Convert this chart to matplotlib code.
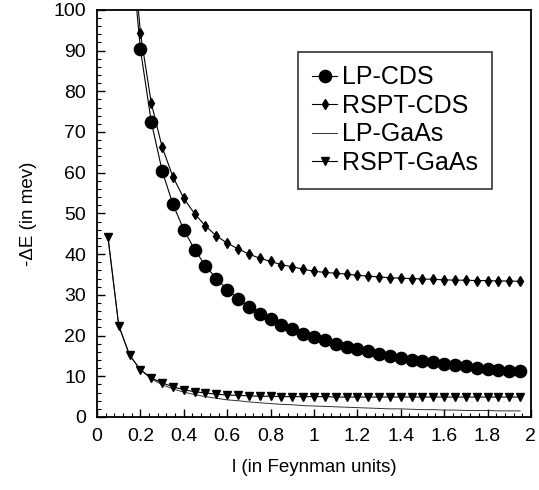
import matplotlib
matplotlib.use("Agg")
import matplotlib.pyplot as plt
from matplotlib.ticker import MultipleLocator

plt.rcParams['font.family'] = ['Liberation Sans', 'DejaVu Sans']

# coupling l (Feynman units)
l_cds = [0.15, 0.2, 0.25, 0.3, 0.35, 0.4, 0.45, 0.5, 0.55, 0.6, 0.65, 0.7, 0.75,
         0.8, 0.85, 0.9, 0.95, 1.0, 1.05, 1.1, 1.15, 1.2, 1.25, 1.3, 1.35, 1.4,
         1.45, 1.5, 1.55, 1.6, 1.65, 1.7, 1.75, 1.8, 1.85, 1.9, 1.95]
l_gaas = [0.05, 0.1] + l_cds

lp_cds = [119.3, 90.3, 72.5, 60.5, 52.2, 46.0, 41.1, 37.1, 34.0, 31.3, 29.0, 27.1,
          25.4, 24.0, 22.7, 21.5, 20.5, 19.6, 18.8, 18.0, 17.3, 16.7, 16.1, 15.5,
          15.0, 14.6, 14.1, 13.7, 13.4, 13.0, 12.7, 12.4, 12.1, 11.8, 11.6, 11.4, 11.2]
rspt_cds = [125.0, 94.3, 77.1, 66.3, 59.0, 53.7, 49.9, 46.9, 44.5, 42.7, 41.3, 40.0,
            39.0, 38.2, 37.4, 36.9, 36.3, 35.8, 35.5, 35.3, 35.1, 34.8, 34.6, 34.4,
            34.2, 34.1, 34.0, 33.9, 33.8, 33.7, 33.6, 33.6, 33.5, 33.5, 33.4, 33.4, 33.3]
lp_gaas = [44.6, 22.6, 15.2, 11.6, 9.4, 7.9, 6.9, 6.1, 5.5, 5.0, 4.6, 4.2, 4.0, 3.7,
           3.5, 3.3, 3.1, 3.0, 2.8, 2.7, 2.6, 2.5, 2.4, 2.3, 2.2, 2.1, 2.0, 2.0, 1.9,
           1.8, 1.8, 1.7, 1.7, 1.6, 1.6, 1.6, 1.5, 1.5, 1.5]
rspt_gaas = [44.3, 22.4, 15.2, 11.6, 9.6, 8.4, 7.4, 6.7, 6.2, 5.9, 5.6, 5.4, 5.3, 5.2,
             5.1, 5.1, 5.0, 5.0, 5.0, 5.0, 5.0, 4.9, 4.9, 4.9, 4.9, 4.9, 4.9, 4.9, 4.9,
             4.9, 4.9, 4.9, 4.9, 4.9, 4.9, 4.9, 4.9, 4.9, 4.9]

fig = plt.figure(figsize=(5.39, 4.90), dpi=100)
ax = fig.add_axes([0.180, 0.149, 0.805, 0.831])

ax.plot(l_cds, lp_cds, '-o', color='black', lw=0.8, ms=8.8, label='LP-CDS')
ax.plot(l_cds, rspt_cds, '-d', color='black', lw=0.8, ms=5, label='RSPT-CDS')
ax.plot(l_gaas, lp_gaas, '-', color='#333333', lw=0.7, label='LP-GaAs')
ax.plot(l_gaas, rspt_gaas, '-v', color='black', lw=0.8, ms=5.5, label='RSPT-GaAs')

ax.set_xlim(0, 2)
ax.set_ylim(0, 100)
ax.xaxis.set_minor_locator(MultipleLocator(0.04))
ax.yaxis.set_major_locator(MultipleLocator(10))
ax.yaxis.set_minor_locator(MultipleLocator(2))
ax.set_xticks([0, 0.2, 0.4, 0.6, 0.8, 1, 1.2, 1.4, 1.6, 1.8, 2])
ax.set_xticklabels(['0', '0.2', '0.4', '0.6', '0.8', '1', '1.2', '1.4', '1.6', '1.8', '2'])
ax.tick_params(which='major', direction='in', length=6, width=1, labelsize=14, pad=8)
ax.tick_params(which='minor', direction='in', length=3, width=0.8)
for s in ax.spines.values():
    s.set_linewidth(1.3)

ax.set_xlabel('l (in Feynman units)', fontsize=13.5, labelpad=10)
ax.set_ylabel('-ΔE (in mev)', fontsize=13.5, labelpad=12)

leg = ax.legend(loc='upper right', bbox_to_anchor=(0.91, 0.897), borderaxespad=0,
                fontsize=18, frameon=True, fancybox=False, edgecolor='black',
                handlelength=1.0, handletextpad=0.2, labelspacing=0.18,
                borderpad=0.55, markerscale=1.0)
leg.get_frame().set_linewidth(1.2)

fig.savefig('out.png', dpi=100)
